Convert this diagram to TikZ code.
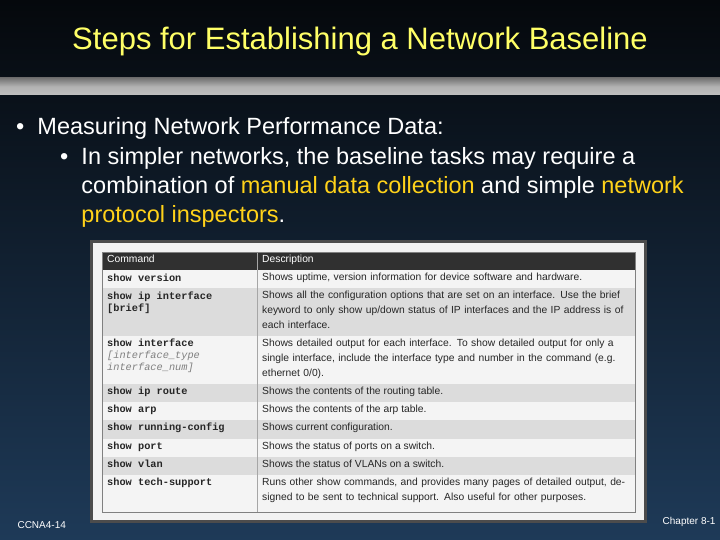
\documentclass[tikz,border=0pt]{standalone}
\usepackage{fontspec}
\setmainfont{Liberation Sans}
\setmonofont{Liberation Mono}
\definecolor{bgtop}{HTML}{05080C}
\definecolor{bgbot}{HTML}{1E3A58}
\definecolor{ttl}{HTML}{FFFF66}
\definecolor{hl}{HTML}{FFD21A}
\definecolor{rowa}{HTML}{F4F4F4}
\definecolor{rowb}{HTML}{DCDCDC}
\definecolor{hdr}{HTML}{303030}
\tikzset{
  cell/.style={anchor=north west,inner sep=0pt,align=left,font=\fontsize{10.3}{15}\selectfont,text=black!85},
  cmd/.style={cell,font=\fontsize{10.3}{12}\selectfont\ttfamily\bfseries},
  bul/.style={anchor=west,inner sep=0pt,text=white,font=\fontsize{23.5}{29}\selectfont,align=left}
}
\begin{document}
\begin{tikzpicture}[x=1pt,y=-1pt]
\useasboundingbox (0,0) rectangle (720,540);
\shade[top color=bgtop,bottom color=bgbot] (0,0) rectangle (720,540);
\shade[top color=black!55,bottom color=black!25,middle color=white!70!black] (0,78) rectangle (720,95);
\node[text=ttl,font=\fontsize{31}{36}\selectfont] (title) at (360,41) {Steps for Establishing a Network Baseline};
\node[bul] (b1) at (16,128) {\textbullet\ \ Measuring Network Performance Data:};
\node[bul,anchor=north west] (b2) at (60,147) {\textbullet\ \ In simpler networks, the baseline tasks may require a\\
\phantom{\textbullet\ \ }combination of \textcolor{hl}{manual data collection} and simple \textcolor{hl}{network}\\
\phantom{\textbullet\ \ }\textcolor{hl}{protocol inspectors}.};
% table frame
\fill[black!70] (90,240) rectangle (647,523);
\fill[white!95!black] (93,243) rectangle (644,520);
\fill[hdr] (102,252) rectangle (635,270);
\foreach \a/\b/\c in {270/288/rowa,288/336/rowb,336/384/rowa,384/402/rowb,402/420/rowa,420/439/rowb,439/457/rowa,457/475/rowb,475/512/rowa}
  {\fill[\c] (102,\a) rectangle (635,\b); \draw[black!30,line width=0.6pt] (102,\b) -- (635,\b);}
\draw[black!35,line width=0.6pt] (257,252) -- (257,512);
\draw[black!50] (102,252) rectangle (635,512);
\node[cell,text=white] (h1) at (107,255) {Command};
\node[cell,text=white] (h2) at (262,255) {Description};
\node[cmd] (c1) at (107,274) {show version};
\node[cell,text width=370pt] (d1) at (262,273) {Shows uptime, version information for device software and hardware.};
\node[cmd] (c2) at (107,292) {show ip interface\\{}[brief]};
\node[cell,text width=370pt] (d2) at (262,291) {Shows all the configuration options that are set on an interface. Use the brief keyword to only show up/down status of IP interfaces and the IP address is of each interface.};
\node[cmd] (c3) at (107,339) {show interface\\{\mdseries\itshape\color{black!50}[interface\_type}\\{\mdseries\itshape\color{black!50}interface\_num]}};
\node[cell,text width=370pt] (d3) at (262,339) {Shows detailed output for each interface. To show detailed output for only a single interface, include the interface type and number in the command (e.g. ethernet 0/0).};
\node[cmd] (c4) at (107,387) {show ip route};
\node[cell] (d4) at (262,387) {Shows the contents of the routing table.};
\node[cmd] (c5) at (107,405) {show arp};
\node[cell] (d5) at (262,405) {Shows the contents of the arp table.};
\node[cmd] (c6) at (107,423) {show running-config};
\node[cell] (d6) at (262,423) {Shows current configuration.};
\node[cmd] (c7) at (107,442) {show port};
\node[cell] (d7) at (262,442) {Shows the status of ports on a switch.};
\node[cmd] (c8) at (107,460) {show vlan};
\node[cell] (d8) at (262,460) {Shows the status of VLANs on a switch.};
\node[cmd] (c9) at (107,478) {show tech-support};
\node[cell,text width=370pt] (d9) at (262,478) {Runs other show commands, and provides many pages of detailed output, designed to be sent to technical support. Also useful for other purposes.};
\node[anchor=west,text=white,font=\fontsize{10}{12}\selectfont] (f1) at (14,525) {CCNA4-14};
\node[anchor=east,text=white,font=\fontsize{10}{12}\selectfont] (f2) at (719,522) {Chapter 8-1};
\end{tikzpicture}
\end{document}
